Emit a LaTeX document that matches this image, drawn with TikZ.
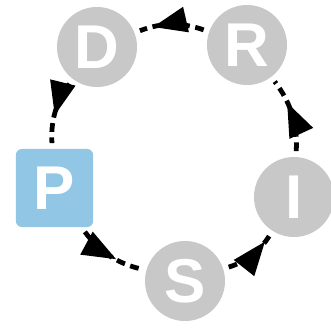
\documentclass[tikz,border=0pt]{standalone}
\usepackage{fontspec}
\setmainfont{Liberation Sans}
\usetikzlibrary{arrows.meta,decorations.markings}

\definecolor{stepgray}{RGB}{200,200,200}
\definecolor{stepblue}{RGB}{145,198,228}

\begin{document}
\begin{tikzpicture}[x=0.025cm,y=-0.025cm,line cap=butt,
    letter/.style={text=white,font=\fontsize{44pt}{48pt}\selectfont\bfseries,inner sep=0pt},
    stage/.style={letter,circle,fill=stepgray,minimum size=2cm},
    start/.style={letter,rectangle,rounded corners=0.15cm,fill=stepblue,minimum width=1.93cm,minimum height=1.95cm},
    flow/.style={line width=3.4pt,dash pattern=on 0.22cm off 0.14cm,shorten >=4pt,shorten <=4pt,
        bend right=20,postaction={decorate},
        decoration={markings,mark=at position #1 with {\arrow{Triangle[length=0.85cm,width=0.62cm]}}}}]
        \useasboundingbox (0,0) rectangle (331,329);

        \node[stage] (D) at (97,47) {D};
        \node[stage] (R) at (247,45) {R};
        \node[stage] (I) at (294,197) {I};
        \node[stage] (S) at (185,281) {S};
        \node[start] (P) at (54.5,188) {P};

        \draw[flow=0.6] (P) to (S);
        \draw[flow=0.8] (S) to (I);
        \draw[flow=0.65] (I) to (R);
        \draw[flow=0.75] (R) to (D);
        \draw[flow=0.55] (D) to (P);
    \end{tikzpicture}
\end{document}
